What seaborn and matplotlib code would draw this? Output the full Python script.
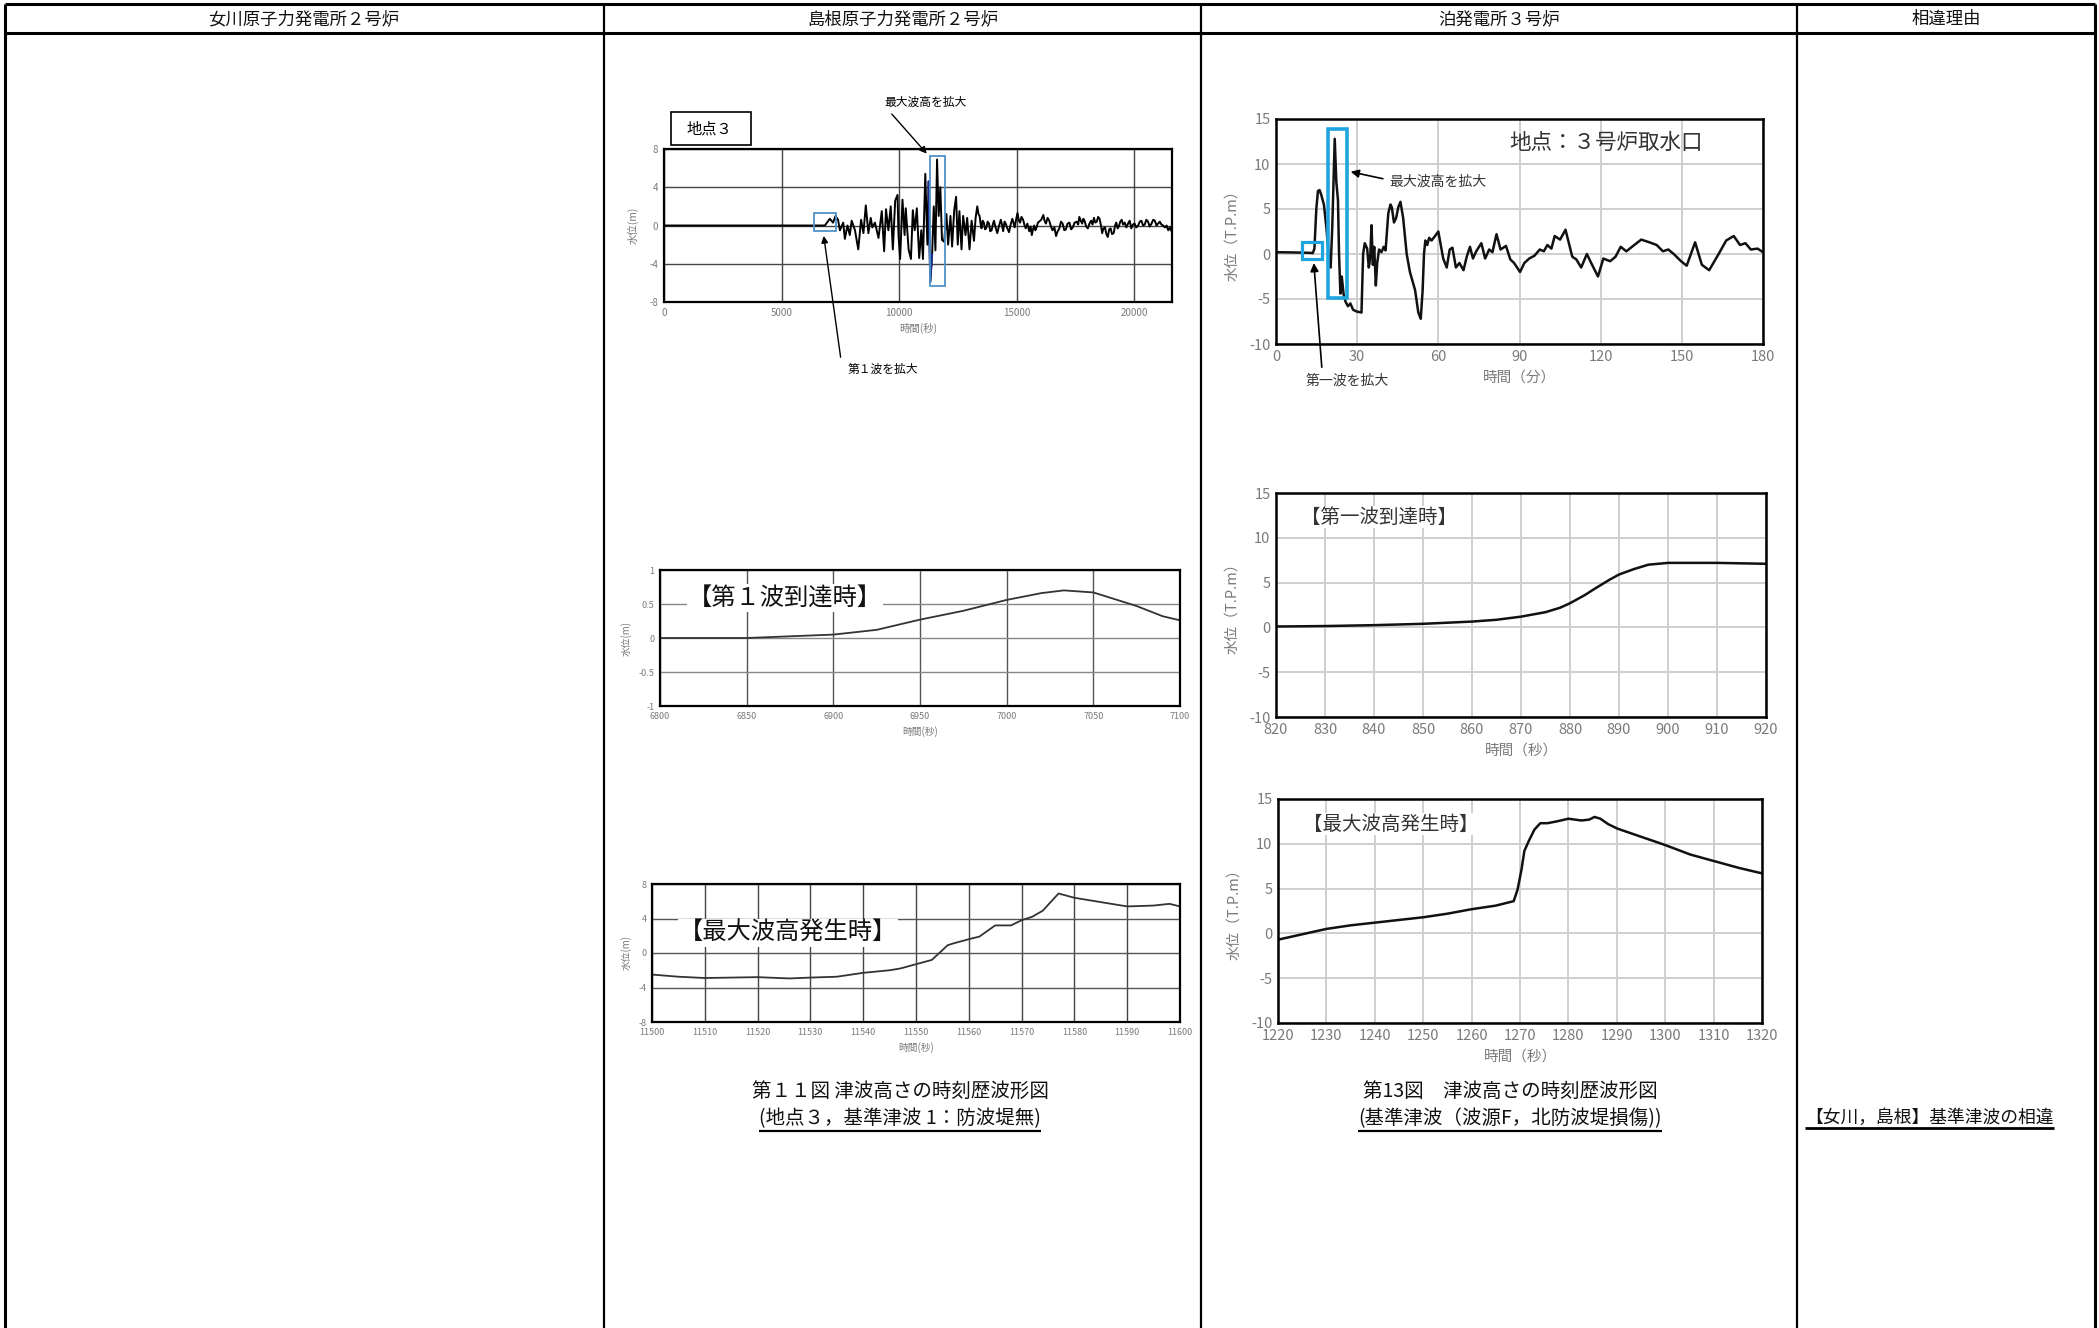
import matplotlib
matplotlib.use("Agg")
import matplotlib.pyplot as plt
from matplotlib.patches import Rectangle
import seaborn as sns

# ---------------- data ----------------
header_labels = ["女川原子力発電所２号炉", "島根原子力発電所２号炉", "泊発電所３号炉", "相違理由"]

# 島根 地点3 full record (s, m)
shimane_t = [0, 6300, 6840, 7050, 7190, 7290, 7400, 7480, 7620, 7690,
             7800, 7900, 7980, 8120, 8260, 8380, 8480, 8580, 8690, 8790,
             8860, 8970, 9120, 9260, 9360, 9440, 9540, 9640, 9730, 9830,
             9930, 9970, 10040, 10140, 10230, 10280, 10400, 10500, 10580, 10660,
             10750, 10850, 10940, 11010, 11110, 11200, 11250, 11320, 11400, 11470,
             11540, 11610, 11680, 11750, 11820, 11910, 12010, 12080, 12180, 12250,
             12340, 12420, 12490, 12560, 12650, 12720, 12820, 12890, 12990, 13080,
             13180, 13250,
             13320, 13370, 13420, 13460, 13500, 13550, 13600, 13650, 13700, 13760,
             13820, 13870, 13930, 13980, 14030, 14100, 14170, 14250, 14320, 14370,
             14420, 14480, 14530, 14600, 14670, 14740, 14810, 14860, 14910, 14970,
             15030, 15090, 15140, 15200, 15270, 15320, 15380, 15450, 15530, 15590,
             15640, 15690, 15740, 15790, 15840, 15900, 15950, 16040, 16130, 16180,
             16240, 16310, 16380, 16450, 16520, 16600, 16670, 16740, 16810, 16880,
             16950, 17020, 17090, 17160, 17240, 17310, 17380, 17460, 17550, 17610,
             17660, 17720, 17780, 17830, 17880, 17950, 18020, 18090, 18160, 18220,
             18280, 18340, 18400, 18460, 18520, 18580, 18630, 18690, 18750, 18810,
             18870, 18930, 18990, 19050, 19120, 19180, 19230, 19290, 19340, 19400,
             19460, 19520, 19590, 19660, 19730, 19800, 19870, 19940, 20010, 20080,
             20160, 20230, 20300, 20370, 20440, 20510, 20580, 20650, 20730, 20800,
             20870, 20940, 21010, 21080, 21150, 21220, 21300, 21370, 21440, 21510,
             21580]
shimane_v = [0, 0, 0, 0.7, 0.3, 1.0, 0.6, -0.5, 0.3, -1.4,
             0, -1.0, 0.5, -0.5, -2.5, 0.6, -0.8, 2.1, -0.8, 0.8,
             -0.2, 0.3, -1.3, 1.5, -2.7, 1.7, -0.5, 2.0, -2.5, 2.6,
             3.2, -1.0, -3.5, 2.7, -1.0, 1.8, -2.5, -3.5, 1.6, -0.5,
             1.8, -3.4, -0.5, -3.5, 5.4, -2.0, 4.6, -5.9, -3.0, 2.0,
             -2.6, 6.9, 1.0, 4.0, -1.5, -1.7, 1.2, -2.0, 1.0, -2.2,
             1.6, 3.0, -2.0, 1.5, -2.5, 1.0, -1.0, 0.8, -2.5, 0.5,
             -1.6, 0.8,
             2.0, 1.2, 1.0, 0.2, -0.3, 0.5, 0.3, -0.4, -0.3, 0.4,
             0.2, -0.6, -0.5, 0.1, 0.5, -0.2, -0.8, 0.0, 0.6, 0.1,
             -0.6, 0.4, 0.2, -0.3, -0.7, 0.1, 0.7, 0.3, -0.2, 0.6,
             1.3, 0.5, 0.3, 0.9, 0.6, 0.1, -0.3, 0.2, -0.6, -0.1,
             -1.0, -0.4, 0.0, -0.5, -0.2, 0.3, 0.4, 0.6, 1.1, 0.5,
             0.2, 0.8, 0.5, -0.1, -0.5, -0.2, -1.1, -0.6, -0.3, 0.4,
             0.2, -0.5, -0.4, 0.2, 0.3, -0.4, -0.2, 0.3, 0.4, 0.1,
             0.9, 0.5, 0.2, 0.7, 0.5, -0.1, -0.3, 0.2, 0.5, 0.1,
             0.8, 0.3, 0.4, 0.9, 0.7, 0.0, -0.8, -0.3, -0.2, -0.9,
             -1.2, -0.4, -0.3, -0.9, -0.8, 0.0, 0.3, -0.3, -0.1, 0.4,
             0.6, 0.1, 0.3, -0.2, 0.2, 0.5, -0.3, 0.1, 0.2, -0.2,
             0.0, 0.4, 0.5, 0.0, 0.1, 0.6, 0.4, -0.1, 0.2, 0.6,
             0.5, 0.0, 0.2, 0.4, 0.1, 0.0, -0.2, 0.0, -0.5, -0.2,
             -0.6]

# 島根 first-wave close-up (s, m)
shimane_first_t = [6800, 6850, 6870, 6900, 6925, 6950, 6975, 7000, 7020, 7033, 7050, 7075, 7090, 7100]
shimane_first_v = [0, 0.0, 0.02, 0.05, 0.12, 0.27, 0.4, 0.56, 0.66, 0.70, 0.67, 0.47, 0.32, 0.26]

# 島根 maximum-wave close-up (s, m)
shimane_max_t = [11500, 11505, 11510, 11520, 11526, 11530, 11535, 11540, 11545, 11547,
                 11550, 11553, 11556, 11557, 11560, 11562, 11565, 11568, 11570, 11572,
                 11574, 11577, 11580, 11585, 11590, 11595, 11598, 11600]
shimane_max_v = [-2.5, -2.75, -2.9, -2.8, -2.95, -2.85, -2.75, -2.3, -2.0, -1.8,
                 -1.3, -0.8, 0.9, 1.1, 1.6, 1.9, 3.2, 3.2, 3.8, 4.2,
                 4.9, 6.9, 6.4, 5.9, 5.4, 5.5, 5.7, 5.4]

# 泊 3号炉取水口 full record (min, T.P.m)
tomari_t = [0, 5, 10, 13, 13.6, 14.2, 14.9, 15.5, 16.1, 16.7,
            17.7, 18.6, 19.8, 20.2, 20.8, 21.7, 22.3, 22.9, 23.3, 23.8,
            24.3, 25.0, 25.7, 26.6, 27.5, 28.5, 29.9, 31.6, 32.2, 32.8,
            33.7, 34.3, 34.8, 35.3, 35.8, 36.3, 36.9, 37.4, 38.1, 39.0,
            39.8, 40.5, 41.5, 42.3, 42.8, 43.6, 44.4, 45.2, 46.0, 47.0,
            48.3, 49.5, 51.4, 52.6, 53.5, 54.2, 54.7, 55.2, 55.9, 56.6,
            57.5, 58.8, 60.0, 60.9, 61.8, 63.1, 64.2, 65.2, 66.5, 67.8,
            69.3, 70.5, 71.7, 72.8, 74.0, 75.9, 77.3, 78.8, 80.0, 81.5,
            83.0, 85.0, 86.6, 88.0, 90.2, 91.8, 93.6, 95.5, 97.5, 99.0,
            100.3, 101.8, 103.0, 105.0, 107.0, 108.0, 109.5, 111.0, 112.8, 114.9,
            116.5, 119.0, 121.0, 123.5, 125.5, 127.4, 129.5, 132.0, 135.0, 138.0,
            140.7, 143.0, 145.0, 147.0, 149.7, 151.8, 154.9, 157.4, 160.1, 163.6,
            166.4, 169.2, 171.5, 173.5, 175.5, 178.0, 180.0]
tomari_v = [0.2, 0.18, 0.15, 0.12, 0.1, 0.6, 5.0, 7.0, 7.1, 6.6,
            5.5, 3.0, -1.2, -1.5, 3.0, 12.8, 8.0, 6.0, 0.0, -4.4,
            -2.5, -4.5, -5.3, -5.8, -5.5, -6.2, -6.4, -6.5, 0.0, 1.2,
            0.6, -1.5, -0.5, 3.2, -1.2, 0.8, -3.5, -1.0, 0.5, 0.2,
            0.8, 0.4, 4.5, 5.5, 5.2, 3.5, 4.0, 5.2, 5.8, 4.0,
            0.0, -2.0, -4.0, -6.5, -7.2, -4.0, 0.0, 1.5, 1.0, 1.8,
            1.5, 2.0, 2.5, 1.0, -0.5, -1.5, 0.5, 0.7, -1.5, -1.0,
            -1.8, -0.3, 0.8, -0.5, 0.3, 1.2, -0.5, 0.5, 0.2, 2.2,
            0.5, 0.9, -0.6, -1.0, -2.0, -1.0, -0.5, -0.2, 0.5, 0.3,
            1.0, 0.6, 2.0, 1.6, 2.7, 1.5, -0.3, -0.6, -1.5, 0.0,
            -1.0, -2.5, -0.5, -0.8, -0.3, 0.8, 0.3, 0.9, 1.6, 1.3,
            1.0, 0.3, 0.5, 0.0, -0.8, -1.3, 1.3, -1.2, -1.8, 0.0,
            1.5, 2.0, 1.0, 1.2, 0.5, 0.6, 0.2]

# 泊 first-wave close-up (s, T.P.m)
tomari_first_t = [820, 830, 840, 850, 860, 865, 870, 875, 878, 880, 883, 885, 888, 890, 893, 896, 900, 905, 910, 915, 920]
tomari_first_v = [0.1, 0.15, 0.25, 0.4, 0.65, 0.85, 1.2, 1.7, 2.2, 2.7, 3.6, 4.3, 5.3, 5.9, 6.5, 7.0, 7.2, 7.2, 7.2, 7.15, 7.1]

# 泊 maximum-wave close-up (s, T.P.m)
tomari_max_t = [1220, 1225, 1230, 1235, 1240, 1245, 1250, 1255, 1260, 1265,
                1268.7, 1269.5, 1270.3, 1270.9, 1271.8, 1273.0, 1274.2, 1275.7, 1277.6, 1280.0,
                1282.7, 1284.3, 1285.4, 1286.6, 1288.2, 1290.1, 1294.4, 1299.8, 1305.2, 1309.9,
                1315.3, 1320]
tomari_max_v = [-0.7, -0.1, 0.5, 0.9, 1.2, 1.5, 1.8, 2.2, 2.7, 3.1,
                3.6, 4.9, 7.1, 9.2, 10.3, 11.6, 12.3, 12.3, 12.5, 12.8,
                12.6, 12.7, 13.0, 12.8, 12.2, 11.7, 10.9, 9.9, 8.8, 8.1,
                7.3, 6.7]

# axis ticks
shimane_full_xticks = [0, 5000, 10000, 15000, 20000]
shimane_full_yticks = [-8, -4, 0, 4, 8]
shimane_first_xticks = [6800, 6850, 6900, 6950, 7000, 7050, 7100]
shimane_first_yticks = [-1, -0.5, 0, 0.5, 1]
shimane_first_ylabels = ["-1", "-0.5", "0", "0.5", "1"]
shimane_max_xticks = list(range(11500, 11601, 10))
tomari_full_xticks = [0, 30, 60, 90, 120, 150, 180]
tomari_yticks = [-10, -5, 0, 5, 10, 15]
tomari_first_xticks = list(range(820, 921, 10))
tomari_max_xticks = list(range(1220, 1321, 10))

# ---------------- figure ----------------
sns.set_theme(style="white")
plt.rcParams['font.family'] = ['Noto Sans CJK JP', 'DejaVu Sans']
plt.rcParams['axes.unicode_minus'] = False

W, H = 2099, 1328
fig = plt.figure(figsize=(W / 100, H / 100), dpi=100)
fig.patch.set_facecolor("white")

bg = fig.add_axes([0, 0, 1, 1], zorder=0)
bg.set_xlim(0, W)
bg.set_ylim(H, 0)
bg.axis("off")


def box(x0, y0, x1, y1):
    return [x0 / W, 1 - y1 / H, (x1 - x0) / W, (y1 - y0) / H]


# table frame
bg.hlines([4, 33], 5, 2095, color="black", lw=2.2)
bg.vlines([5, 2095], 4, H, color="black", lw=2.2)
bg.vlines([604, 1201, 1797], 4, H, color="black", lw=1.6)
for cx, lab in zip([304, 903, 1499, 1946], header_labels):
    bg.text(cx, 19, lab, ha="center", va="center", fontsize=12.5, color="#111")

GRAY = "#7a7a7a"


def style(ax, xlim, ylim, xticks, yticks, xgrid, ygrid, size, spine_lw, ylabels=None, glw=1.0):
    ax.set_xlim(*xlim)
    ax.set_ylim(*ylim)
    ax.set_xticks(xticks)
    ax.set_yticks(yticks)
    if ylabels is not None:
        ax.set_yticklabels(ylabels)
    ax.xaxis.grid(True, color=xgrid, lw=glw)
    ax.yaxis.grid(True, color=ygrid, lw=glw)
    ax.set_axisbelow(True)
    for s in ax.spines.values():
        s.set_visible(True)
        s.set_color("black")
        s.set_linewidth(spine_lw)
    ax.tick_params(length=0, labelsize=size, labelcolor=GRAY, pad=4)
    ax.set_facecolor("white")


# ---- 島根: full record ----
ax1 = fig.add_axes(box(664, 149, 1172, 302), zorder=2)
sns.lineplot(x=shimane_t, y=shimane_v, ax=ax1, color="black", lw=1.4, sort=False)
seg = [(t, v) for t, v in zip(shimane_t, shimane_v) if 11250 <= t <= 11400]
sns.lineplot(x=[p[0] for p in seg], y=[p[1] for p in seg], ax=ax1, color="#1b2f8f", lw=1.5, sort=False)
style(ax1, (0, 21600), (-8, 8), shimane_full_xticks, shimane_full_yticks, "#444", "#444", 7, 1.6)
ax1.set_xlabel("時間(秒)", fontsize=7.5, color=GRAY, labelpad=4)
ax1.set_ylabel("水位(m)", fontsize=7.5, color=GRAY, labelpad=8)
ax1.add_patch(Rectangle((11290, -6.3), 660, 13.55, fill=False, ec="#4f93c9", lw=1.3, zorder=5))
ax1.add_patch(Rectangle((6377, -0.6), 948, 1.9, fill=False, ec="#4f93c9", lw=1.3, zorder=5))
bg.add_patch(Rectangle((671, 112), 80, 33, fill=False, ec="black", lw=1.2))
bg.text(709, 129, "地点３", ha="center", va="center", fontsize=11, color="black")
bg.text(926, 102, "最大波高を拡大", ha="center", va="center", fontsize=8.5, color="black")
ax1.annotate("", xy=(11250, 7.3), xycoords="data", xytext=(890, 112), textcoords=bg.transData,
             arrowprops=dict(arrowstyle="-|>", color="black", lw=1, mutation_scale=10))
bg.text(883, 369, "第１波を拡大", ha="center", va="center", fontsize=8.5, color="black")
ax1.annotate("", xy=(6776, -0.8), xycoords="data", xytext=(841, 360), textcoords=bg.transData,
             arrowprops=dict(arrowstyle="-|>", color="black", lw=1, mutation_scale=10))

# ---- 島根: first wave ----
ax3 = fig.add_axes(box(660, 570, 1180, 706), zorder=2)
sns.lineplot(x=shimane_first_t, y=shimane_first_v, ax=ax3, color="#333", lw=1.3)
style(ax3, (6800, 7100), (-1, 1), shimane_first_xticks, shimane_first_yticks, "#555", "#888", 6.5, 1.6,
      ylabels=shimane_first_ylabels)
ax3.set_xlabel("時間(秒)", fontsize=7, color=GRAY, labelpad=4)
ax3.set_ylabel("水位(m)", fontsize=7, color=GRAY, labelpad=5)
ax3.text(688, 598, "【第１波到達時】", transform=bg.transData, ha="left", va="center",
         fontsize=17.5, color="#111", bbox=dict(fc="white", ec="none", pad=0.5), zorder=6)

# ---- 島根: maximum wave ----
ax5 = fig.add_axes(box(652, 884, 1180, 1022), zorder=2)
sns.lineplot(x=shimane_max_t, y=shimane_max_v, ax=ax5, color="#333", lw=1.3)
style(ax5, (11500, 11600), (-8, 8), shimane_max_xticks, shimane_full_yticks, "#444", "#555", 6.5, 1.6)
ax5.set_xlabel("時間(秒)", fontsize=7, color=GRAY, labelpad=4)
ax5.set_ylabel("水位(m)", fontsize=7, color=GRAY, labelpad=5)
ax5.text(679, 933, "【最大波高発生時】", transform=bg.transData, ha="left", va="center",
         fontsize=17.5, color="#111", bbox=dict(fc="white", ec="none", pad=0.5), zorder=6)

# ---- 泊: full record ----
LG = "#cfcfcf"
ax2 = fig.add_axes(box(1276, 119, 1763, 344), zorder=2)
sns.lineplot(x=tomari_t, y=tomari_v, ax=ax2, color="#111", lw=1.8, sort=False)
style(ax2, (0, 180), (-10, 15), tomari_full_xticks, tomari_yticks, LG, LG, 10.5, 1.8, glw=1.4)
ax2.set_xlabel("時間（分）", fontsize=10.5, color=GRAY, labelpad=5)
ax2.set_ylabel("水位（T.P.m）", fontsize=10.5, color=GRAY, labelpad=7)
ax2.add_patch(Rectangle((9.7, -0.6), 7.3, 1.9, fill=False, ec="#1ea5e0", lw=2.3, zorder=5))
ax2.add_patch(Rectangle((19.1, -4.9), 7.1, 18.8, fill=False, ec="#1ea5e0", lw=2.6, zorder=5))
ax2.text(1606, 143, "地点：３号炉取水口", transform=bg.transData, ha="center", va="center",
         fontsize=15.5, color="#333")
ax2.text(41.8, 8.0, "最大波高を拡大", ha="left", va="center", fontsize=10, color="#333")
ax2.annotate("", xy=(26.6, 9.2), xytext=(40.5, 8.3),
             arrowprops=dict(arrowstyle="-|>", color="black", lw=1.2, mutation_scale=12))
bg.text(1347, 381, "第一波を拡大", ha="center", va="center", fontsize=10, color="#333")
ax2.annotate("", xy=(13.9, -0.7), xycoords="data", xytext=(1322, 370), textcoords=bg.transData,
             arrowprops=dict(arrowstyle="-|>", color="black", lw=1.2, mutation_scale=12))

# ---- 泊: first wave ----
ax4 = fig.add_axes(box(1276, 493, 1766, 717), zorder=2)
sns.lineplot(x=tomari_first_t, y=tomari_first_v, ax=ax4, color="#111", lw=1.8)
style(ax4, (820, 920), (-10, 15), tomari_first_xticks, tomari_yticks, LG, LG, 10.5, 1.8, glw=1.4)
ax4.set_xlabel("時間（秒）", fontsize=10.5, color=GRAY, labelpad=5)
ax4.set_ylabel("水位（T.P.m）", fontsize=10.5, color=GRAY, labelpad=7)
ax4.text(1301, 517, "【第一波到達時】", transform=bg.transData, ha="left", va="center",
         fontsize=14, color="#333", bbox=dict(fc="white", ec="none", pad=0.5), zorder=6)

# ---- 泊: maximum wave ----
ax6 = fig.add_axes(box(1278, 799, 1762, 1023), zorder=2)
sns.lineplot(x=tomari_max_t, y=tomari_max_v, ax=ax6, color="#111", lw=1.8)
style(ax6, (1220, 1320), (-10, 15), tomari_max_xticks, tomari_yticks, LG, LG, 10.5, 1.8, glw=1.4)
ax6.set_xlabel("時間（秒）", fontsize=10.5, color=GRAY, labelpad=5)
ax6.set_ylabel("水位（T.P.m）", fontsize=10.5, color=GRAY, labelpad=7)
ax6.text(1303, 824, "【最大波高発生時】", transform=bg.transData, ha="left", va="center",
         fontsize=14, color="#333", bbox=dict(fc="white", ec="none", pad=0.5), zorder=6)

# ---- captions ----
bg.text(900, 1091, "第１１図 津波高さの時刻歴波形図", ha="center", va="center", fontsize=14, color="#111")
cap1 = bg.text(900, 1119, "(地点３，基準津波 1：防波堤無)", ha="center", va="center", fontsize=14, color="#111")
bg.text(1510, 1091, "第13図　津波高さの時刻歴波形図", ha="center", va="center", fontsize=14, color="#111")
cap2 = bg.text(1510, 1119, "(基準津波（波源F，北防波堤損傷))", ha="center", va="center", fontsize=14, color="#111")
reason = bg.text(1805, 1118, "【女川，島根】基準津波の相違", ha="left", va="center", fontsize=12.8, color="#111")

fig.canvas.draw()
renderer = fig.canvas.get_renderer()
for t, lw in [(cap1, 1.6), (cap2, 1.6), (reason, 2.0)]:
    bb = t.get_window_extent(renderer)
    bg.hlines(H - bb.y0 + 1, bb.x0, bb.x1, color="black", lw=lw)

fig.savefig("out.png", dpi=100, facecolor="white")
